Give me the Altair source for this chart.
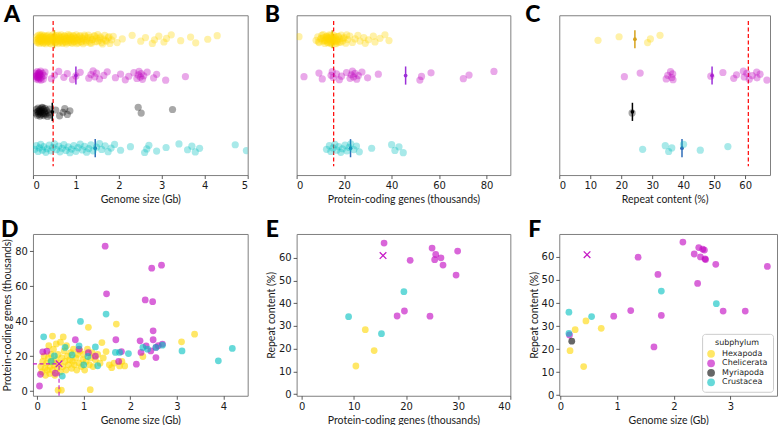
import altair as alt
import pandas as pd

GROUPS = ["Hexapoda", "Chelicerata", "Myriapoda", "Crustacea"]
POINT_COLORS = ["#FFD700", "#BF00BF", "#000000", "#00BFBF"]
MEAN_COLORS = ["#D6A21C", "#9B2FD8", "#000000", "#2F6DB8"]
MARK_COLOR = "#C61BC6"

# Reference species
REF_GENOME_GB = 0.47
REF_GENES_K = 15.6
REF_REPEAT_PCT = 61.0

# ---- genome size (Gb) per subphylum ----
hexapoda_genome = [
    0.07, 0.09, 0.1, 0.12, 0.12, 0.14, 0.15, 0.15, 0.17, 0.18, 0.19, 0.2, 0.21, 0.21,
    0.23, 0.24, 0.25, 0.26, 0.27, 0.29, 0.3, 0.31, 0.31, 0.33, 0.34, 0.36, 0.37, 0.38,
    0.4, 0.41, 0.43, 0.44, 0.45, 0.47, 0.48, 0.5, 0.51, 0.52, 0.54, 0.55, 0.57, 0.58,
    0.6, 0.61, 0.62, 0.64, 0.66, 0.67, 0.69, 0.7, 0.72, 0.73, 0.75, 0.77, 0.78, 0.8,
    0.81, 0.83, 0.85, 0.86, 0.88, 0.9, 0.92, 0.93, 0.95, 0.97, 0.99, 1.01, 1.03, 1.04,
    1.06, 1.08, 1.1, 1.12, 1.14, 1.17, 1.19, 1.21, 1.24, 1.26, 1.29, 1.31, 1.34, 1.36,
    1.39, 1.42, 1.45, 1.48, 1.51, 1.54, 1.57, 1.6, 1.64, 1.67, 1.71, 1.75, 1.79, 1.83,
    1.87, 0.11, 0.13, 0.16, 0.19, 0.22, 0.24, 0.28, 0.32, 0.35, 0.39, 0.42, 0.46, 0.49,
    0.53, 0.56, 0.59, 0.63, 0.65, 0.68, 0.71, 0.74, 0.76, 0.79, 0.82, 0.84, 0.87, 0.89,
    0.91, 0.94, 0.96, 0.98, 1.02, 1.05, 1.09, 1.13, 1.16, 1.2, 1.23, 1.27, 1.33, 1.38,
    1.44, 1.5, 1.56, 1.62, 1.69, 1.77, 1.96, 2.08, 2.31, 2.51, 2.62, 2.78, 2.83, 2.93,
    3.05, 3.11, 3.22, 3.44, 3.67, 3.79, 4.07, 4.29,
]
chelicerata_genome = [
    0.05, 0.06, 0.08, 0.09, 0.1, 0.11, 0.12, 0.13, 0.14, 0.15, 0.16, 0.17, 0.18, 0.2,
    0.22, 0.24, 0.26, 0.28, 0.12, 0.15, 0.19, 0.1, 0.14, 0.43, 0.5, 0.6, 0.72, 0.8,
    0.92, 1.0, 1.1, 1.3, 1.35, 1.4, 1.44, 1.48, 1.55, 1.65, 1.73, 1.92, 2.04, 2.15,
    2.23, 2.35, 2.42, 2.45, 2.47, 2.5, 2.52, 2.55, 2.58, 2.66, 2.81, 2.88, 3.09, 3.55,
]
myriapoda_genome = [
    0.06, 0.08, 0.1, 0.11, 0.12, 0.13, 0.15, 0.16, 0.17, 0.18, 0.19, 0.2, 0.21, 0.22,
    0.24, 0.25, 0.27, 0.28, 0.3, 0.32, 0.34, 0.36, 0.38, 0.4, 0.14, 0.23, 0.26, 0.53,
    0.62, 0.7, 0.74, 0.8, 0.86, 2.45, 2.52, 3.25,
]
crustacea_genome = [
    0.04, 0.08, 0.12, 0.15, 0.18, 0.22, 0.25, 0.3, 0.33, 0.38, 0.42, 0.46, 0.5, 0.55,
    0.6, 0.63, 0.68, 0.72, 0.77, 0.82, 0.86, 0.9, 0.95, 1.0, 1.05, 1.1, 1.15, 1.2,
    1.25, 1.3, 1.35, 1.4, 1.48, 1.55, 1.6, 1.68, 1.75, 1.82, 1.9, 2.04, 2.27, 2.6,
    2.65, 2.7, 2.88, 3.1, 3.4, 3.6, 3.7, 3.78, 3.88, 4.71, 4.97,
]
genome_means = {"Hexapoda": 0.5, "Chelicerata": 1.0, "Myriapoda": 0.45, "Crustacea": 1.45}

# ---- protein-coding genes (thousands) ----
hexapoda_genes = [
    8.2, 8.9, 9.5, 10.1, 10.6, 11.0, 11.4, 11.9, 12.3, 12.7, 13.0, 13.4, 13.8, 14.1,
    14.5, 14.8, 15.2, 15.5, 15.9, 16.3, 16.6, 17.0, 17.4, 17.9, 18.3, 18.8, 19.4, 20.0,
    20.7, 21.5, 22.4, 9.2, 10.4, 11.2, 12.0, 12.5, 13.2, 13.6, 14.3, 14.9, 15.4, 16.1,
    16.8, 17.6, 18.6, 19.8, 21.1, 11.7, 12.9, 14.0, 15.0, 16.0, 17.2, 13.3, 14.6, 15.7,
    1.0, 23.5, 24.6, 25.8, 26.7, 28.3, 28.9, 30.2, 32.3, 33.0, 35.1, 37.2, 38.9,
]
chelicerata_genes = [
    3.1, 9.4, 10.8, 14.5, 15.0, 15.4, 16.8, 18.0, 18.9, 21.0, 22.5, 23.0, 23.5, 24.0,
    24.6, 25.3, 26.0, 27.5, 29.9, 34.4, 51.9, 52.6, 56.6, 70.2, 72.6, 83.1,
]
crustacea_genes = [
    12.6, 13.8, 14.4, 15.3, 16.1, 16.9, 17.7, 18.6, 19.3, 20.4, 21.2, 22.1, 22.8, 24.1,
    25.2, 26.4, 31.6, 40.0, 41.4, 43.1, 44.9,
]
genes_means = {"Hexapoda": 15.0, "Chelicerata": 45.9, "Crustacea": 22.7}

# ---- repeat content (%) ----
hexapoda_repeat = [12.5, 19.3, 28.5, 29.4, 32.5]
chelicerata_repeat = [
    21.0, 26.1, 34.5, 35.0, 35.9, 36.3, 36.6, 36.7, 48.9, 52.8, 56.3, 57.2, 59.4, 59.7,
    60.5, 61.3, 62.3, 63.7, 63.8, 64.8, 67.0,
]
myriapoda_repeat = [23.5]
crustacea_repeat = [26.9, 34.2, 35.3, 36.3, 40.1, 45.5, 54.4]
repeat_means = {"Hexapoda": 24.4, "Chelicerata": 49.3, "Myriapoda": 23.6, "Crustacea": 39.6}

# ---- D: genome size vs genes ----
d_hex_genome = [0.08, 0.1, 0.12, 0.15, 0.17, 0.18, 0.2, 0.22, 0.24, 0.25, 0.27, 0.28, 0.3,
                0.31, 0.33, 0.33, 0.35, 0.36, 0.38, 0.4, 0.41, 0.43, 0.45, 0.45, 0.47,
                0.5, 0.5, 0.52, 0.53, 0.55, 0.56, 0.58, 0.6, 0.62, 0.63, 0.65, 0.67,
                0.7, 0.72, 0.74, 0.76, 0.78, 0.8, 0.83, 0.85, 0.87, 0.9, 0.92, 0.95, 0.98,
                1.0, 1.02, 1.05, 1.08, 1.1, 1.12, 1.14, 1.15, 1.18, 1.2, 1.25, 1.3, 1.35,
                1.39, 1.42, 1.48, 1.55, 1.6, 1.65, 1.7, 1.77, 1.82, 1.88, 2.27, 3.1, 3.38]
d_hex_genes = [14, 11, 17, 20, 13, 9, 16, 12, 19, 26, 10, 14, 21,
               17, 31.5, 12, 24, 15, 9, 18, 27, 13, 21, 0.5, 16,
               28, 11, 0.5, 19, 14, 31, 23, 17, 12, 26, 20, 15,
               18, 22, 13, 17, 24, 15, 19, 12, 21, 16, 23, 14, 18,
               21, 12, 17, 24, 36.5, 15, 0.8, 19, 22, 14, 18, 21, 16,
               27.8, 19, 22.6, 15, 13.4, 16, 38.4, 14.4, 17, 14.4, 19.8, 28.2, 32.6]
d_che_genome = [0.05, 0.07, 0.12, 0.21, 0.39, 0.82, 0.9, 1.1, 1.25, 1.46, 1.49, 1.69, 1.75,
                1.81, 2.13, 2.21, 2.23, 2.32, 2.34, 2.44, 2.46, 2.48, 2.49, 2.49, 2.55,
                2.55, 2.6, 2.67, 2.69]
d_che_genes = [2.9, 9.6, 22.5, 22.8, 10.2, 29.4, 24, 22, 20, 83, 55.7, 29.4, 17,
               22.6, 15.4, 28.8, 22.1, 52.2, 25.9, 23, 70.4, 51.2, 34.5, 29.4, 25,
               19.2, 26, 72.1, 26.9]
d_cru_genome = [0.14, 0.3, 0.37, 0.54, 0.6, 0.75, 0.9, 0.93, 1.0, 1.09, 1.25, 1.3, 1.48,
                1.68, 1.77, 1.96, 2.27, 2.37, 2.55, 2.69, 3.11, 3.89, 4.19]
d_cru_genes = [31.1, 17, 20.2, 8.6, 25, 20.7, 25.9, 39.9, 15, 19.8, 25.3, 14.5, 44.1,
               22.1, 22.1, 21.5, 25, 24, 25, 26.3, 23, 17.3, 24.4]

# ---- E: genes vs repeat content ----
e_hex_genes = [10.4, 12.2, 13.9]
e_hex_repeat = [12.4, 28.4, 19.2]
e_che_genes = [15.8, 25.0, 29.9, 25.7, 26.7, 25.5, 20.8, 27.1, 29.6, 18.3, 19.7, 24.6]
e_che_repeat = [66.5, 64.3, 63.0, 61.5, 60.0, 59.2, 58.9, 56.8, 52.4, 34.4, 36.6, 34.3]
e_cru_genes = [9.0, 15.3, 19.6]
e_cru_repeat = [34.1, 26.6, 45.1]

# ---- F: genome size vs repeat content ----
f_hex_genome = [0.17, 0.26, 0.45, 0.41, 0.72]
f_hex_repeat = [19.3, 28.4, 32.2, 12.4, 29.0]
f_che_genome = [2.16, 2.44, 2.51, 2.54, 2.36, 2.47, 2.55, 2.56, 1.37, 2.74, 3.65, 1.72,
                2.42, 0.94, 1.24, 1.78, 2.87, 3.26, 1.65, 0.16]
f_che_repeat = [66.5, 64.1, 63.4, 63.0, 61.3, 60.0, 59.2, 58.9, 59.9, 56.8, 55.9, 52.4,
                48.5, 34.3, 36.7, 34.6, 36.5, 36.5, 20.9, 26.1]
f_myr_genome = [0.2]
f_myr_repeat = [23.4]
f_cru_genome = [0.15, 0.15, 0.55, 1.78, 2.75]
f_cru_repeat = [36.0, 26.8, 34.1, 45.2, 39.7]

LABEL_FONT = "DejaVu Sans"
TITLE_FONT = "Lato"
GROUP_SCALE = alt.Scale(domain=GROUPS, range=POINT_COLORS)
STRIP_Y = alt.Scale(domain=[-0.66, 3.74], reverse=True, nice=False, zero=False)
X_CROSS = "M-1,-1L1,1M-1,1L1,-1"


def strip_table(values_by_group):
    rows = []
    for k, g in enumerate(GROUPS):
        for v in values_by_group.get(g, []):
            rows.append({"g": g, "k": k, "v": v})
    return pd.DataFrame(rows)


def mean_table(means):
    rows = []
    for k, g in enumerate(GROUPS):
        if g in means:
            rows.append({"g": g, "k": k, "v": means[g], "mc": MEAN_COLORS[k]})
    return pd.DataFrame(rows)


def letter_layer(letter, dx, dy):
    return alt.Chart(pd.DataFrame({"t": [letter]})).mark_text(
        font=TITLE_FONT, fontSize=23, fontWeight=900, align="left",
        baseline="alphabetic", color="black",
    ).encode(text="t:N", x=alt.value(dx), y=alt.value(dy))


def strip_panel(letter, values_by_group, means, ref, xdomain, xticks, xtitle, w, h, ldx):
    xs = alt.Scale(domain=xdomain, nice=False, zero=False)
    xa = alt.Axis(values=xticks, title=xtitle)

    def X(f):
        return alt.X(f, type="quantitative", scale=xs, axis=xa)

    def Y(f):
        return alt.Y(f, type="quantitative", scale=STRIP_Y, axis=None)

    refline = alt.Chart(pd.DataFrame({"v": [ref], "y0": [-0.5], "y1": [3.5]})).mark_rule(
        color="red", strokeDash=[4, 2.5], strokeWidth=1.2
    ).encode(x=X("v"), y=Y("y0"), y2="y1:Q")
    mt = mean_table(means)
    bars = alt.Chart(mt).transform_calculate(
        lo="datum.k - 0.25", hi="datum.k + 0.25"
    ).mark_rule(strokeWidth=1.5).encode(
        x=X("v"), y=Y("lo"), y2="hi:Q", stroke=alt.Stroke("mc:N", scale=None)
    )
    dots = alt.Chart(mt).mark_circle(size=14, opacity=1).encode(
        x=X("v"), y=Y("k"), fill=alt.Fill("mc:N", scale=None)
    )
    # jittered strip of individual species, drawn over the mean markers
    pts = alt.Chart(strip_table(values_by_group)).transform_window(
        rn="row_number()", groupby=["g"]
    ).transform_calculate(
        yy="datum.k + ((datum.rn * 0.6180339887) % 1 - 0.5) * 0.26"
    ).mark_circle(size=52, opacity=0.34, clip=True).encode(
        x=X("v"), y=Y("yy"),
        color=alt.Color("g:N", scale=GROUP_SCALE, legend=None),
    )
    return alt.layer(refline, bars, dots, pts, letter_layer(letter, ldx, 7)).properties(
        width=w, height=h
    )


def scatter_table(groups):
    rows = []
    for g, xs, ys in groups:
        for a, b in zip(xs, ys):
            rows.append({"g": g, "v": a, "w": b})
    return pd.DataFrame(rows)


def scatter_panel(letter, groups, xdomain, xticks, xtitle, ydomain, yticks, ytitle,
                  marker, w, h, ldx, legend=None, crosshair=False):
    xs = alt.Scale(domain=xdomain, nice=False, zero=False)
    ys = alt.Scale(domain=ydomain, nice=False, zero=False)
    xa = alt.Axis(values=xticks, title=xtitle)
    ya = alt.Axis(values=yticks, title=ytitle)

    def X(f):
        return alt.X(f, type="quantitative", scale=xs, axis=xa)

    def Y(f):
        return alt.Y(f, type="quantitative", scale=ys, axis=ya)

    pts = alt.Chart(scatter_table(groups)).mark_circle(size=46, opacity=0.6, clip=True).encode(
        x=X("v"), y=Y("w"),
        color=alt.Color("g:N", scale=GROUP_SCALE, legend=legend),
    )
    layers = [pts]
    if crosshair:
        hline = alt.Chart(pd.DataFrame({"v": [xdomain[0]], "v2": [marker[0]], "w": [marker[1]]})).mark_rule(
            color=MARK_COLOR, strokeDash=[4, 2.5], strokeWidth=1.1
        ).encode(x=X("v"), x2="v2:Q", y=Y("w"))
        vline = alt.Chart(pd.DataFrame({"v": [marker[0]], "w": [ydomain[0]], "w2": [marker[1]]})).mark_rule(
            color=MARK_COLOR, strokeDash=[4, 2.5], strokeWidth=1.1
        ).encode(x=X("v"), y=Y("w"), y2="w2:Q")
        layers += [hline, vline]
    cross = alt.Chart(pd.DataFrame({"v": [marker[0]], "w": [marker[1]]})).mark_point(
        shape=X_CROSS, size=44, filled=False, color=MARK_COLOR, strokeWidth=1.3, opacity=1
    ).encode(x=X("v"), y=Y("w"))
    layers += [cross, letter_layer(letter, ldx, 3)]
    return alt.layer(*layers).properties(width=w, height=h)


panel_a = strip_panel(
    "A",
    {"Hexapoda": hexapoda_genome, "Chelicerata": chelicerata_genome,
     "Myriapoda": myriapoda_genome, "Crustacea": crustacea_genome},
    genome_means, REF_GENOME_GB, [0, 5], [0, 1, 2, 3, 4, 5], "Genome size (Gb)", 215, 160, -29,
)
panel_b = strip_panel(
    "B",
    {"Hexapoda": hexapoda_genes, "Chelicerata": chelicerata_genes, "Crustacea": crustacea_genes},
    genes_means, REF_GENES_K, [0, 90], [0, 20, 40, 60, 80], "Protein-coding genes (thousands)",
    214, 160, -32,
)
panel_c = strip_panel(
    "C",
    {"Hexapoda": hexapoda_repeat, "Chelicerata": chelicerata_repeat,
     "Myriapoda": myriapoda_repeat, "Crustacea": crustacea_repeat},
    repeat_means, REF_REPEAT_PCT, [0, 68], [0, 10, 20, 30, 40, 50, 60], "Repeat content (%)",
    211, 160, -34,
)

panel_d = scatter_panel(
    "D",
    [("Hexapoda", d_hex_genome, d_hex_genes), ("Chelicerata", d_che_genome, d_che_genes),
     ("Crustacea", d_cru_genome, d_cru_genes)],
    [-0.09, 4.52], [0, 1, 2, 3, 4], "Genome size (Gb)",
    [-2.7, 90], [0, 20, 40, 60, 80], "Protein-coding genes (thousands)",
    (REF_GENOME_GB, REF_GENES_K), 215, 162, -32, crosshair=True,
)
panel_e = scatter_panel(
    "E",
    [("Hexapoda", e_hex_genes, e_hex_repeat), ("Chelicerata", e_che_genes, e_che_repeat),
     ("Crustacea", e_cru_genes, e_cru_repeat)],
    [-0.96, 40], [0, 10, 20, 30, 40], "Protein-coding genes (thousands)",
    [-0.7, 70.5], [0, 10, 20, 30, 40, 50, 60], "Repeat content (%)",
    (REF_GENES_K, REF_REPEAT_PCT), 214, 162, -31,
)
legend_f = alt.Legend(
    title="subphylum", orient="bottom-right", offset=4, direction="vertical",
    titleFont=LABEL_FONT, titleFontSize=8, titleFontWeight="normal", titleColor="#222",
    titleAnchor="middle", titlePadding=3,
    labelFont=LABEL_FONT, labelFontSize=8, labelColor="#222", labelOffset=7,
    symbolType="circle", symbolSize=60, symbolOpacity=0.6, symbolStrokeWidth=0,
    rowPadding=1.5, padding=5, fillColor="white", strokeColor="#cccccc", cornerRadius=3,
)
panel_f = scatter_panel(
    "F",
    [("Hexapoda", f_hex_genome, f_hex_repeat), ("Chelicerata", f_che_genome, f_che_repeat),
     ("Myriapoda", f_myr_genome, f_myr_repeat), ("Crustacea", f_cru_genome, f_cru_repeat)],
    [-0.02, 3.82], [0, 1, 2, 3], "Genome size (Gb)",
    [-0.3, 70], [0, 10, 20, 30, 40, 50, 60], "Repeat content (%)",
    (REF_GENOME_GB, REF_REPEAT_PCT), 218, 162, -31, legend=legend_f,
)

chart = alt.concat(
    panel_a, panel_b, panel_c, panel_d, panel_e, panel_f,
    columns=3, spacing={"row": 59, "column": 49}, bounds="flush", align="each",
).resolve_scale(
    color="independent"
).properties(
    padding={"left": 0, "top": 3, "right": 0, "bottom": 0}
).configure_view(
    stroke="#7f7f7f", strokeWidth=1
).configure_axis(
    domain=False, grid=False,
    labelFont=LABEL_FONT, labelFontSize=10, labelColor="#1a1a1a", labelPadding=2,
    titleFont=TITLE_FONT, titleFontSize=10.5, titleFontWeight="normal", titleColor="#1a1a1a",
    tickColor="#333333", tickSize=3.5, tickWidth=0.8,
).configure_axisX(titlePadding=4).configure_axisY(titlePadding=2)

chart.save("out.html", embed_options={"renderer": "svg", "actions": False})
